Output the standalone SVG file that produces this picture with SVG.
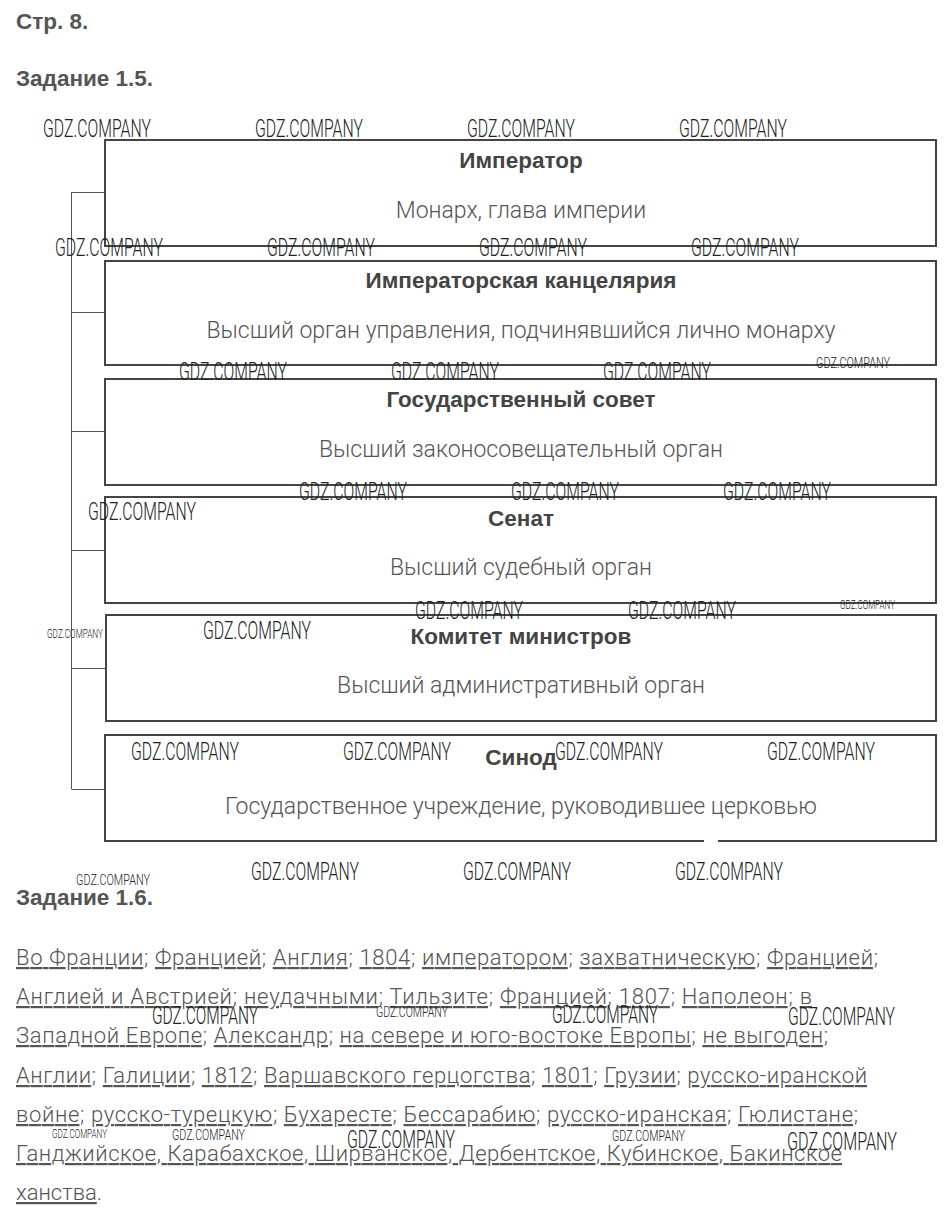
<svg xmlns="http://www.w3.org/2000/svg" width="947" height="1218" viewBox="0 0 947 1218">
<style>
.bg{fill:#fff}
.box{fill:none;stroke:#444;stroke-width:2}
.ttl{font-family:"Liberation Sans",Arial,sans-serif;font-weight:bold;font-size:22.5px;fill:#444;text-anchor:middle}
.dsc{font-family:Roboto,"Liberation Sans",sans-serif;font-weight:300;font-size:23px;fill:#555;text-anchor:middle}
.hdr{font-family:"Liberation Sans",Arial,sans-serif;font-weight:bold;font-size:22.5px;fill:#555}
.par{font-family:Roboto,"Liberation Sans",sans-serif;font-weight:300;font-size:22px;fill:#555}
.u{text-decoration:underline}
.con{fill:none;stroke:#555;stroke-width:1}
.wm{font-family:Roboto,"DejaVu Sans Condensed",sans-serif;font-weight:300;fill:#222}
.L{font-size:26.5px}
.S{font-size:15.5px}
.T{font-size:13px}
</style>
<rect class="bg" x="0" y="0" width="947" height="1218"/>
<g id="headers">
<text class="hdr" x="16" y="29">Стр. 8.</text>
<text class="hdr" x="16" y="86">Задание 1.5.</text>
<text class="hdr" x="16" y="905">Задание 1.6.</text>
</g>
<g id="connectors">
<path class="con" d="M71.5 192V789M71.5 192.5H105M71.5 312.5H105M71.5 431.5H105M71.5 550.5H105M71.5 668.5H105M71.5 789.5H105"/>
</g>
<g id="node-imperator">
<rect class="box" x="105" y="140" width="831" height="106"/>
<text class="ttl" x="521" y="168">Император</text>
<text class="dsc" x="521" y="218">Монарх, глава империи</text>
</g>
<g id="node-chancellery">
<rect class="box" x="105" y="261" width="831" height="104"/>
<text class="ttl" x="521" y="288">Императорская канцелярия</text>
<text class="dsc" x="521" y="338">Высший орган управления, подчинявшийся лично монарху</text>
</g>
<g id="node-council">
<rect class="box" x="105" y="379" width="831" height="106"/>
<text class="ttl" x="521" y="407">Государственный совет</text>
<text class="dsc" x="521" y="457">Высший законосовещательный орган</text>
</g>
<g id="node-senate">
<rect class="box" x="105" y="497" width="831" height="106"/>
<text class="ttl" x="521" y="526">Сенат</text>
<text class="dsc" x="521" y="575">Высший судебный орган</text>
</g>
<g id="node-ministers">
<rect class="box" x="106" y="615" width="830" height="106"/>
<text class="ttl" x="521" y="644">Комитет министров</text>
<text class="dsc" x="521" y="693">Высший административный орган</text>
</g>
<g id="node-synod">
<rect class="box" x="105" y="735" width="831" height="106"/>
<rect x="704" y="838" width="14" height="6" fill="#fff"/>
<text class="ttl" x="521" y="765">Синод</text>
<text class="dsc" x="521" y="814">Государственное учреждение, руководившее церковью</text>
</g>
<g id="answer-text" class="par">
<text x="16" y="965" textLength="862" lengthAdjust="spacing"><tspan class="u">Во Франции</tspan>; <tspan class="u">Францией</tspan>; <tspan class="u">Англия</tspan>; <tspan class="u">1804</tspan>; <tspan class="u">императором</tspan>; <tspan class="u">захватническую</tspan>; <tspan class="u">Францией</tspan>;</text>
<text x="16" y="1004" textLength="796" lengthAdjust="spacing"><tspan class="u">Англией и Австрией</tspan>; <tspan class="u">неудачными</tspan>; <tspan class="u">Тильзите</tspan>; <tspan class="u">Францией</tspan>; <tspan class="u">1807</tspan>; <tspan class="u">Наполеон</tspan>; <tspan class="u">в</tspan></text>
<text x="16" y="1043" textLength="812" lengthAdjust="spacing"><tspan class="u">Западной Европе</tspan>; <tspan class="u">Александр</tspan>; <tspan class="u">на севере и юго-востоке Европы</tspan>; <tspan class="u">не выгоден</tspan>;</text>
<text x="16" y="1083" textLength="851" lengthAdjust="spacing"><tspan class="u">Англии</tspan>; <tspan class="u">Галиции</tspan>; <tspan class="u">1812</tspan>; <tspan class="u">Варшавского герцогства</tspan>; <tspan class="u">1801</tspan>; <tspan class="u">Грузии</tspan>; <tspan class="u">русско-иранской</tspan></text>
<text x="16" y="1122" textLength="842" lengthAdjust="spacing"><tspan class="u">войне</tspan>; <tspan class="u">русско-турецкую</tspan>; <tspan class="u">Бухаресте</tspan>; <tspan class="u">Бессарабию</tspan>; <tspan class="u">русско-иранская</tspan>; <tspan class="u">Гюлистане</tspan>;</text>
<text x="16" y="1161" textLength="826" lengthAdjust="spacing"><tspan class="u">Ганджийское, Карабахское, Ширванское, Дербентское, Кубинское, Бакинское</tspan></text>
<text x="16" y="1200"><tspan class="u">ханства</tspan>.</text>
</g>
<g id="watermarks" class="wm">
<text class="L" x="43" y="137" textLength="108" lengthAdjust="spacingAndGlyphs">GDZ.COMPANY</text>
<text class="L" x="255" y="137" textLength="108" lengthAdjust="spacingAndGlyphs">GDZ.COMPANY</text>
<text class="L" x="467" y="137" textLength="108" lengthAdjust="spacingAndGlyphs">GDZ.COMPANY</text>
<text class="L" x="679" y="137" textLength="108" lengthAdjust="spacingAndGlyphs">GDZ.COMPANY</text>
<text class="L" x="55" y="256" textLength="108" lengthAdjust="spacingAndGlyphs">GDZ.COMPANY</text>
<text class="L" x="267" y="256" textLength="108" lengthAdjust="spacingAndGlyphs">GDZ.COMPANY</text>
<text class="L" x="479" y="256" textLength="108" lengthAdjust="spacingAndGlyphs">GDZ.COMPANY</text>
<text class="L" x="691" y="256" textLength="108" lengthAdjust="spacingAndGlyphs">GDZ.COMPANY</text>
<text class="L" x="179" y="380" textLength="108" lengthAdjust="spacingAndGlyphs">GDZ.COMPANY</text>
<text class="L" x="391" y="380" textLength="108" lengthAdjust="spacingAndGlyphs">GDZ.COMPANY</text>
<text class="L" x="603" y="380" textLength="108" lengthAdjust="spacingAndGlyphs">GDZ.COMPANY</text>
<text class="S" x="816" y="368" textLength="74" lengthAdjust="spacingAndGlyphs">GDZ.COMPANY</text>
<text class="L" x="299" y="500" textLength="108" lengthAdjust="spacingAndGlyphs">GDZ.COMPANY</text>
<text class="L" x="511" y="500" textLength="108" lengthAdjust="spacingAndGlyphs">GDZ.COMPANY</text>
<text class="L" x="723" y="500" textLength="108" lengthAdjust="spacingAndGlyphs">GDZ.COMPANY</text>
<text class="L" x="88" y="520" textLength="108" lengthAdjust="spacingAndGlyphs">GDZ.COMPANY</text>
<text class="L" x="415" y="619" textLength="108" lengthAdjust="spacingAndGlyphs">GDZ.COMPANY</text>
<text class="L" x="628" y="619" textLength="108" lengthAdjust="spacingAndGlyphs">GDZ.COMPANY</text>
<text class="T" x="840" y="609" textLength="55" lengthAdjust="spacingAndGlyphs">GDZ.COMPANY</text>
<text class="L" x="203" y="639" textLength="108" lengthAdjust="spacingAndGlyphs">GDZ.COMPANY</text>
<text class="T" x="47" y="638" textLength="56" lengthAdjust="spacingAndGlyphs">GDZ.COMPANY</text>
<text class="L" x="131" y="760" textLength="108" lengthAdjust="spacingAndGlyphs">GDZ.COMPANY</text>
<text class="L" x="343" y="760" textLength="108" lengthAdjust="spacingAndGlyphs">GDZ.COMPANY</text>
<text class="L" x="555" y="760" textLength="108" lengthAdjust="spacingAndGlyphs">GDZ.COMPANY</text>
<text class="L" x="767" y="760" textLength="108" lengthAdjust="spacingAndGlyphs">GDZ.COMPANY</text>
<text class="L" x="251" y="880" textLength="108" lengthAdjust="spacingAndGlyphs">GDZ.COMPANY</text>
<text class="L" x="463" y="880" textLength="108" lengthAdjust="spacingAndGlyphs">GDZ.COMPANY</text>
<text class="L" x="675" y="880" textLength="108" lengthAdjust="spacingAndGlyphs">GDZ.COMPANY</text>
<text class="S" x="76" y="885" textLength="74" lengthAdjust="spacingAndGlyphs">GDZ.COMPANY</text>
<text class="L" x="152" y="1024" textLength="106" lengthAdjust="spacingAndGlyphs">GDZ.COMPANY</text>
<text class="S" x="376" y="1017" textLength="72" lengthAdjust="spacingAndGlyphs">GDZ.COMPANY</text>
<text class="L" x="552" y="1023" textLength="106" lengthAdjust="spacingAndGlyphs">GDZ.COMPANY</text>
<text class="L" x="788" y="1025" textLength="107" lengthAdjust="spacingAndGlyphs">GDZ.COMPANY</text>
<text class="T" x="52" y="1138" textLength="55" lengthAdjust="spacingAndGlyphs">GDZ.COMPANY</text>
<text class="S" x="172" y="1140" textLength="73" lengthAdjust="spacingAndGlyphs">GDZ.COMPANY</text>
<text class="L" x="347" y="1148" textLength="108" lengthAdjust="spacingAndGlyphs">GDZ.COMPANY</text>
<text class="S" x="612" y="1141" textLength="73" lengthAdjust="spacingAndGlyphs">GDZ.COMPANY</text>
<text class="L" x="787" y="1150" textLength="110" lengthAdjust="spacingAndGlyphs">GDZ.COMPANY</text>
</g>
</svg>
